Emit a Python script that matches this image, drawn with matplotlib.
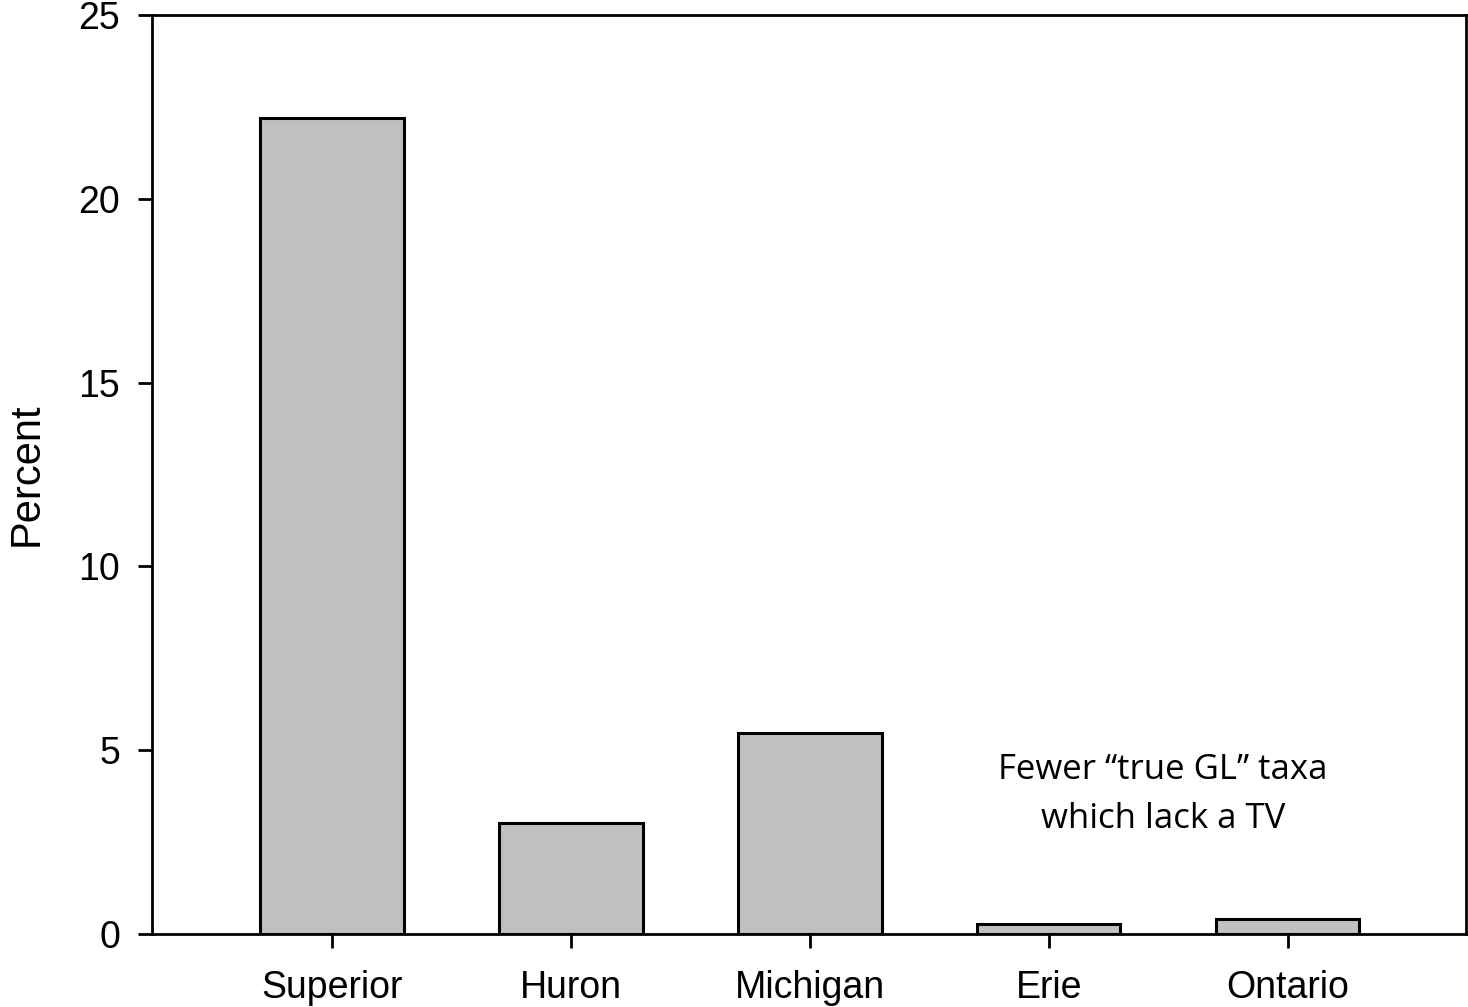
import numpy as np
import matplotlib.pyplot as plt

lakes = ['Superior', 'Huron', 'Michigan', 'Erie', 'Ontario']
percent = [22.2, 3.02, 5.47, 0.27, 0.42]

plt.rcParams['font.family'] = ['Liberation Sans', 'DejaVu Sans']

fig = plt.figure(figsize=(14.68, 10.07), dpi=100)
ax = fig.add_axes([0.1035, 0.0725, 0.895, 0.9125])

x = np.arange(len(lakes))
ax.bar(x, percent, width=0.6, color='#c0c0c0', edgecolor='black', linewidth=2.2, zorder=3)

ax.set_xlim(-0.753, 4.745)
ax.set_ylim(0, 25)
ax.set_xticks(x)
ax.set_xticklabels(lakes)
ax.set_yticks([0, 5, 10, 15, 20, 25])
ax.tick_params(axis='both', direction='out', length=10, width=2, labelsize=27)
ax.tick_params(axis='x', pad=16)
ax.tick_params(axis='y', pad=13)
for s in ax.spines.values():
    s.set_linewidth(2)

ax.set_ylabel('Percent', fontsize=30, labelpad=23)

ax.text(3.477, 3.79, 'Fewer \u201ctrue GL\u201d taxa\nwhich lack a TV', ha='center', va='center',
        fontsize=25, family=['Open Sans', 'DejaVu Sans'], linespacing=1.56)

fig.savefig('out.png', dpi=100)
